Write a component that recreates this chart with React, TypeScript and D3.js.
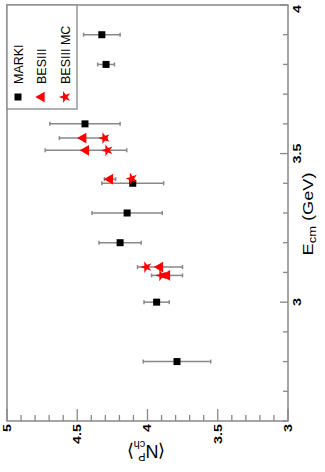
import React from 'react';
import * as d3 from 'd3';

// MARKI measurements
const markiE = [2.8, 3.0, 3.2, 3.3, 3.4, 3.6, 3.8, 3.9];
const markiN = [3.79, 3.935, 4.195, 4.145, 4.105, 4.445, 4.295, 4.325];
const markiErr = [0.24, 0.09, 0.15, 0.25, 0.22, 0.25, 0.06, 0.13];

// BESIII data
const besE = [3.09, 3.118, 3.414, 3.511, 3.552];
const besN = [3.861, 3.911, 4.267, 4.438, 4.457];
const besErr = [0.11, 0.16, 0.04, 0.29, 0.17];

// BESIII MC
const mcE = [3.09, 3.118, 3.416, 3.511, 3.552];
const mcN = [3.902, 4.009, 4.112, 4.286, 4.307];

const nMajor = [5, 4.5, 4, 3.5, 3];
const eMajor = [3, 3.5, 4];

const legendItems = ['MARKI', 'BESIII', 'BESIII MC'];

const W = 325;
const H = 472;
const frame = { left: 7, right: 288, top: 5, bottom: 421 };
const grey = '#888';
const axisFont = 'Liberation Sans, Arial, sans-serif';

const App = () => {
  // chart is drawn rotated: <N> runs along the bottom, E_cm up the right side
  const x = d3.scaleLinear().domain([5, 3]).range([frame.left, frame.right]);
  const y = d3.scaleLinear().domain([2.6, 4]).range([frame.bottom, frame.top]);

  const nMinor = d3.range(30, 51).map(d => d / 10);
  const eMinor = d3.range(26, 41).map(d => d / 10);

  const square = 7;
  const tri = d3.symbol().type(d3.symbolTriangle).size(50)();
  const star = d3.symbol().type(d3.symbolStar).size(44)();

  const errBar = (n: number, e: number, err: number, key: string) => {
    const x0 = x(n + err);
    const x1 = x(n - err);
    const yy = y(e);
    return (
      <g key={key} stroke={grey} strokeWidth={1.5}>
        <line x1={x0} x2={x1} y1={yy} y2={yy} />
        <line x1={x0} x2={x0} y1={yy - 2} y2={yy + 2} />
        <line x1={x1} x2={x1} y1={yy - 2} y2={yy + 2} />
      </g>
    );
  };

  return (
    <svg width={W} height={H} style={{ position: 'absolute', left: 0, top: 0, background: '#fff' }}>
      {/* frame */}
      <rect x={frame.left} y={frame.top} width={frame.right - frame.left} height={frame.bottom - frame.top}
        fill="none" stroke={grey} strokeWidth={1.5} />

      {/* bottom axis ticks (<N>) */}
      {nMinor.map(v => {
        const major = nMajor.some(m => Math.abs(m - v) < 1e-6);
        return <line key={'nt' + v} x1={x(v)} x2={x(v)} y1={frame.bottom} y2={frame.bottom - (major ? 12 : 6)}
          stroke={grey} strokeWidth={1.3} />;
      })}
      {nMajor.map(v => (
        <text key={'nl' + v} transform={`translate(${x(v)},${frame.bottom + 3}) rotate(-90) scale(1.3,1)`}
          textAnchor="end" dy="0.35em" fontSize={11} fontWeight="bold" fontFamily={axisFont}>{v}</text>
      ))}

      {/* right axis ticks (E_cm) */}
      {eMinor.map(v => {
        const major = eMajor.some(m => Math.abs(m - v) < 1e-6);
        return <line key={'et' + v} x1={frame.right} x2={frame.right - (major ? 8 : 5)} y1={y(v)} y2={y(v)}
          stroke={grey} strokeWidth={1.3} />;
      })}
      {eMajor.map(v => (
        <text key={'el' + v} transform={`translate(${frame.right + 13},${y(v)}) rotate(-90) scale(1.3,1)`}
          textAnchor={v === 4 ? 'end' : 'middle'} fontSize={11} fontWeight="bold" fontFamily={axisFont}>
          {v}
        </text>
      ))}

      {/* axis titles */}
      <text transform={`translate(313,214) rotate(-90) scale(1.3,1)`} textAnchor="middle"
        fontSize={14} fontFamily={axisFont}>
        E<tspan fontSize={10} dy={3}>cm</tspan><tspan dy={-3}> (GeV)</tspan>
      </text>
      <text transform={`translate(146,445) rotate(180)`} textAnchor="middle" fontSize={18} fontFamily={axisFont}>
        <tspan fontFamily="DejaVu Sans" fontWeight="200">⟨</tspan>N<tspan fontSize={11} dy={-8}>P</tspan>
        <tspan fontSize={11} dx={-7} dy={12}>ch</tspan>
        <tspan fontFamily="DejaVu Sans" fontWeight="200" dy={-4}>⟩</tspan>
      </text>

      {/* error bars */}
      {markiE.map((e, i) => errBar(markiN[i], e, markiErr[i], 'me' + i))}
      {besE.map((e, i) => errBar(besN[i], e, besErr[i], 'be' + i))}

      {/* markers */}
      {markiE.map((e, i) => (
        <rect key={'m' + i} x={x(markiN[i]) - square / 2} y={y(e) - square / 2} width={square} height={square}
          fill="#000" />
      ))}
      {mcE.map((e, i) => (
        <path key={'s' + i} d={star} transform={`translate(${x(mcN[i])},${y(e)}) rotate(-90)`} fill="#f00" />
      ))}
      {besE.map((e, i) => (
        <path key={'t' + i} d={tri} transform={`translate(${x(besN[i])},${y(e)}) rotate(-90)`} fill="#f00" />
      ))}

      {/* legend */}
      <rect x={frame.left} y={frame.top} width={70} height={104} fill="#fff" stroke={grey} strokeWidth={1.3} />
      {legendItems.map((name, i) => {
        const lx = 18 + i * 23.5;
        return (
          <g key={'lg' + i}>
            {i === 0 && <rect x={lx - 3.5} y={93.5} width={7} height={7} fill="#000" />}
            {i === 1 && <path d={tri} transform={`translate(${lx},97) rotate(-90)`} fill="#f00" />}
            {i === 2 && <path d={star} transform={`translate(${lx},97) rotate(-90)`} fill="#f00" />}
            <text transform={`translate(${lx + 4.5},84) rotate(-90)`} fontSize={12.5} fontFamily={axisFont}>{name}</text>
          </g>
        );
      })}
    </svg>
  );
};

export default App;
